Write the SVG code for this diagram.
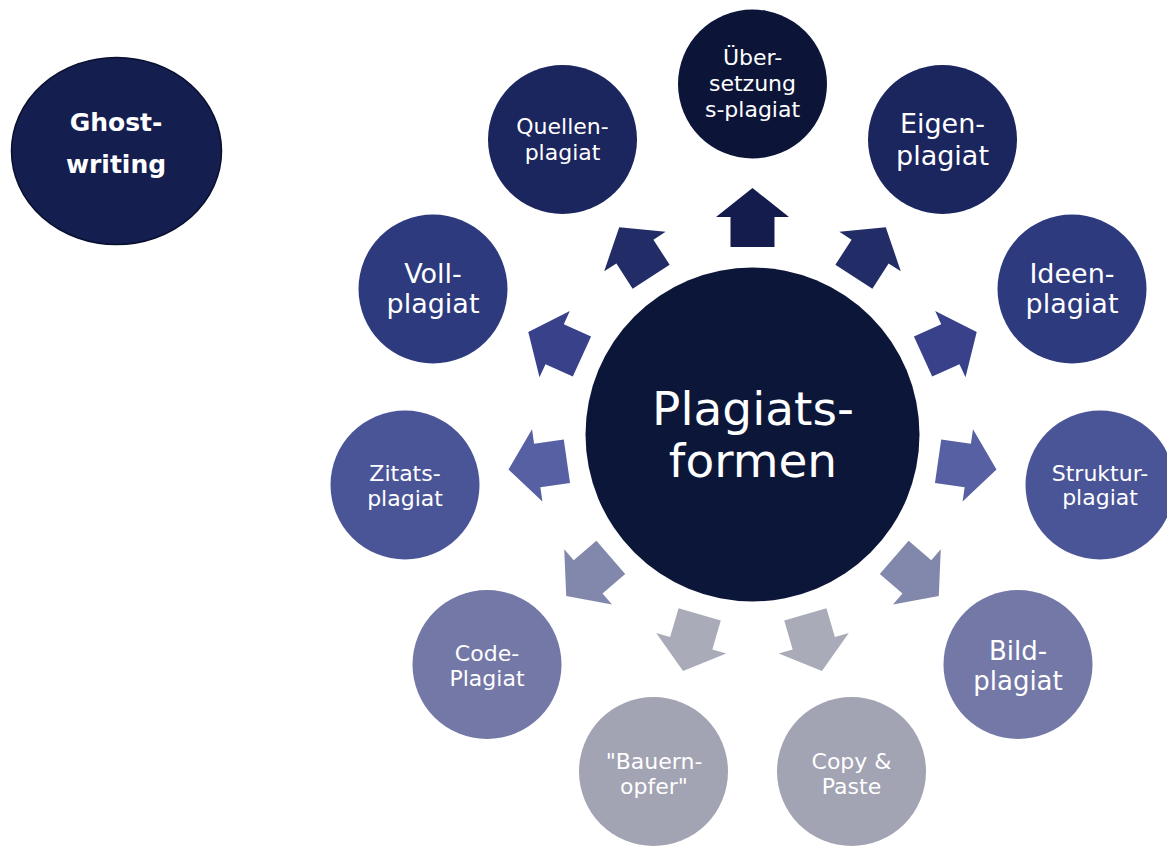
<svg xmlns="http://www.w3.org/2000/svg" xmlns:xlink="http://www.w3.org/1999/xlink" width="1167" height="847" viewBox="0 0 1167 847">
<style>
text{font-family:"DejaVu Sans","Liberation Sans",sans-serif;fill:#ffffff;text-anchor:middle}
.s22{font-size:22px}.s23{font-size:22px}.s26{font-size:26px}.s27{font-size:27px}
.c0{fill:#0c1538}.c1{fill:#1b255e}.c2{fill:#2e3a7e}.c3{fill:#4a5597}.c4{fill:#7378a7}.c5{fill:#a2a3b3}
.a0{fill:#131c4c}.a1{fill:#222c66}.a2{fill:#38418a}.a3{fill:#5660a2}.a4{fill:#8288ac}.a5{fill:#a9abb9}
</style>
<defs>
<polygon id="arr" points="187.5,-22 217.5,-22 217.5,-36.5 246.5,0 217.5,36.5 217.5,22 187.5,22"/>
</defs>
<rect width="1167" height="847" fill="#ffffff"/>
<g id="connectors">
<use xlink:href="#arr" class="a0" transform="translate(752.5 434.5) rotate(-90)"/>
<use xlink:href="#arr" class="a1" transform="translate(752.5 434.5) rotate(-57.273)"/>
<use xlink:href="#arr" class="a2" transform="translate(752.5 434.5) rotate(-24.545)"/>
<use xlink:href="#arr" class="a3" transform="translate(752.5 434.5) rotate(8.182)"/>
<use xlink:href="#arr" class="a4" transform="translate(752.5 434.5) rotate(40.909)"/>
<use xlink:href="#arr" class="a5" transform="translate(752.5 434.5) rotate(73.636)"/>
<use xlink:href="#arr" class="a5" transform="translate(752.5 434.5) rotate(106.364)"/>
<use xlink:href="#arr" class="a4" transform="translate(752.5 434.5) rotate(139.091)"/>
<use xlink:href="#arr" class="a3" transform="translate(752.5 434.5) rotate(171.818)"/>
<use xlink:href="#arr" class="a2" transform="translate(752.5 434.5) rotate(204.545)"/>
<use xlink:href="#arr" class="a1" transform="translate(752.5 434.5) rotate(237.273)"/>
</g>
<g id="ghostwriting">
<ellipse cx="116.5" cy="151" rx="105" ry="93.5" fill="#141e4f" stroke="#0a1030" stroke-width="1.5"/>
<text x="116" y="131" style="font-size:25px;font-weight:bold">Ghost-</text>
<text x="116" y="173" style="font-size:25px;font-weight:bold">writing</text>
</g>
<g id="center">
<circle cx="752.5" cy="434.5" r="167" fill="#0c1639"/>
<text x="753" y="425" style="font-size:47px">Plagiats-</text>
<text x="753" y="477" style="font-size:47px">formen</text>
</g>
<g id="uebersetzung">
<circle cx="752.5" cy="84" r="74.5" class="c0"/>
<text x="752.5" y="65" class="s22">Über-</text>
<text x="752.5" y="90.5" class="s22">setzung</text>
<text x="752.5" y="116.5" class="s22">s-plagiat</text>
</g>
<g id="eigen">
<circle cx="942.5" cy="139.5" r="74.5" class="c1"/>
<text x="942.5" y="133" class="s27">Eigen-</text>
<text x="942.5" y="165" class="s27">plagiat</text>
</g>
<g id="ideen">
<circle cx="1072" cy="289" r="74.5" class="c2"/>
<text x="1072" y="283" class="s27">Ideen-</text>
<text x="1072" y="313" class="s27">plagiat</text>
</g>
<g id="struktur">
<circle cx="1100" cy="485" r="74.5" class="c3"/>
<text x="1100" y="481" class="s22">Struktur-</text>
<text x="1100" y="505" class="s22">plagiat</text>
</g>
<g id="bild">
<circle cx="1018" cy="664.5" r="74.5" class="c4"/>
<text x="1018" y="660" class="s26">Bild-</text>
<text x="1018" y="690" class="s26">plagiat</text>
</g>
<g id="copy">
<circle cx="851.5" cy="771.5" r="74.5" class="c5"/>
<text x="851.5" y="769" class="s23">Copy &amp;</text>
<text x="851.5" y="794" class="s23">Paste</text>
</g>
<g id="bauern">
<circle cx="653.5" cy="771.5" r="74.5" class="c5"/>
<text x="654" y="769" class="s23">"Bauern-</text>
<text x="654" y="794" class="s23">opfer"</text>
</g>
<g id="code">
<circle cx="487" cy="664.5" r="74.5" class="c4"/>
<text x="487" y="661" class="s22">Code-</text>
<text x="487" y="686" class="s22">Plagiat</text>
</g>
<g id="zitats">
<circle cx="405" cy="485" r="74.5" class="c3"/>
<text x="405" y="481" class="s22">Zitats-</text>
<text x="405" y="506" class="s22">plagiat</text>
</g>
<g id="voll">
<circle cx="433" cy="289" r="74.5" class="c2"/>
<text x="433" y="283" class="s27">Voll-</text>
<text x="433" y="313" class="s27">plagiat</text>
</g>
<g id="quellen">
<circle cx="562.5" cy="139.5" r="74.5" class="c1"/>
<text x="562.5" y="134" class="s22">Quellen-</text>
<text x="562.5" y="160" class="s22">plagiat</text>
</g>
</svg>
